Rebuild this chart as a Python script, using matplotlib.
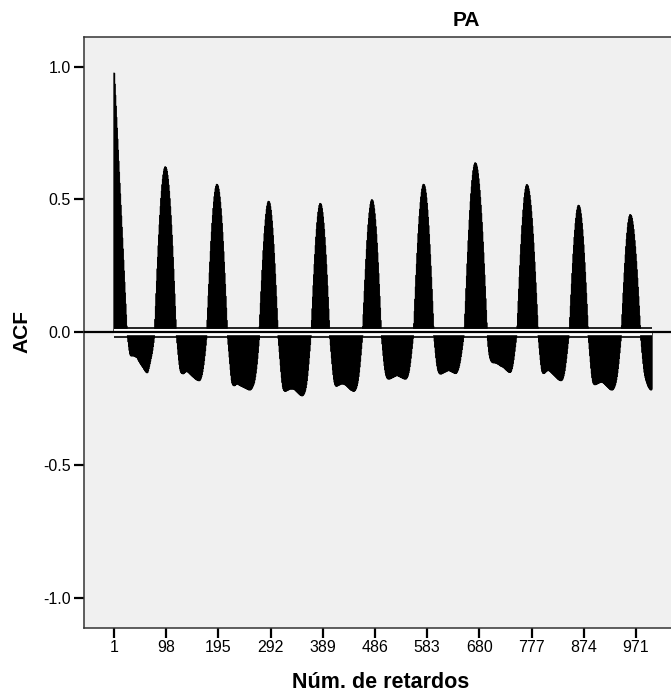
import numpy as np
import matplotlib
matplotlib.use("Agg")
import matplotlib.pyplot as plt

# ---- data: ACF values per lag, one list per daily cycle (96 lags) ----
seg0 = [0.977, 0.936, 0.894, 0.853, 0.811, 0.770, 0.729, 0.687, 0.646, 0.604, 0.563, 0.522, 0.480, 0.439, 0.397, 0.356,
        0.315, 0.273, 0.232, 0.190, 0.149, 0.108, 0.066, 0.025,
        -0.005, -0.020, -0.036, -0.053, -0.068, -0.080, -0.086, -0.088, -0.088, -0.088, -0.088, -0.088, -0.088, -0.089,
        -0.090, -0.091, -0.092, -0.093, -0.094, -0.097, -0.101, -0.106, -0.109, -0.112, -0.116, -0.119, -0.122, -0.125,
        -0.128, -0.131, -0.134, -0.138, -0.141, -0.144, -0.147, -0.149, -0.151, -0.151, -0.149, -0.143, -0.135, -0.126,
        -0.117, -0.107, -0.097, -0.088, -0.078, -0.066, -0.052, -0.037, -0.020,
        0.000,
        0.049, 0.098, 0.146, 0.193, 0.239, 0.283, 0.326, 0.367, 0.405, 0.441, 0.474, 0.505, 0.532, 0.556, 0.577, 0.593,
        0.607, 0.616, 0.622, 0.624]
seg1 = [0.622, 0.616, 0.607, 0.593, 0.577, 0.556, 0.532, 0.505, 0.474, 0.441, 0.405, 0.367, 0.326, 0.283, 0.239, 0.193,
        0.146, 0.098, 0.049, 0.000,
        -0.018, -0.040, -0.062, -0.084, -0.104, -0.122, -0.137, -0.146, -0.151, -0.153, -0.154, -0.155, -0.155, -0.154,
        -0.152, -0.150, -0.148, -0.147, -0.147, -0.147, -0.148, -0.149, -0.151, -0.153, -0.155, -0.157, -0.159, -0.161,
        -0.163, -0.165, -0.167, -0.168, -0.170, -0.172, -0.174, -0.175, -0.177, -0.178, -0.179, -0.180, -0.181, -0.181,
        -0.181, -0.179, -0.176, -0.171, -0.165, -0.157, -0.147, -0.135, -0.121, -0.105, -0.087, -0.068, -0.047, -0.024,
        0.000, 0.046, 0.092, 0.137, 0.181, 0.224, 0.265, 0.305, 0.343, 0.378, 0.411, 0.440, 0.467, 0.491, 0.511, 0.528,
        0.541, 0.550, 0.556, 0.558]
seg2 = [0.556, 0.550, 0.541, 0.528, 0.511, 0.491, 0.467, 0.440, 0.411, 0.378, 0.343, 0.305, 0.265, 0.224, 0.181, 0.137,
        0.092, 0.046, 0.000,
        -0.022, -0.046, -0.070, -0.094, -0.118, -0.141, -0.162, -0.180, -0.191, -0.196, -0.199, -0.200, -0.200, -0.199,
        -0.197, -0.195, -0.194, -0.194, -0.194, -0.195, -0.196, -0.198, -0.199, -0.200, -0.201, -0.202, -0.203, -0.204,
        -0.205, -0.206, -0.207, -0.208, -0.209, -0.210, -0.211, -0.212, -0.213, -0.214, -0.215, -0.216, -0.216, -0.216,
        -0.215, -0.213, -0.211, -0.208, -0.204, -0.199, -0.194, -0.188, -0.178, -0.166, -0.152, -0.136, -0.118, -0.097,
        -0.074, -0.050, -0.026,
        0.022, 0.066, 0.110, 0.153, 0.194, 0.234, 0.272, 0.308, 0.341, 0.372, 0.400, 0.424, 0.445, 0.463, 0.476, 0.486,
        0.492, 0.494]
seg3 = [0.492, 0.486, 0.475, 0.461, 0.442, 0.420, 0.394, 0.365, 0.333, 0.298, 0.260, 0.220, 0.178, 0.135, 0.091, 0.046,
        0.000,
        -0.024, -0.049, -0.074, -0.099, -0.124, -0.148, -0.170, -0.189, -0.204, -0.213, -0.218, -0.220, -0.221, -0.221,
        -0.220, -0.219, -0.218, -0.217, -0.216, -0.215, -0.214, -0.213, -0.213, -0.213, -0.213, -0.213, -0.213, -0.213,
        -0.213, -0.214, -0.215, -0.217, -0.219, -0.221, -0.223, -0.225, -0.227, -0.229, -0.231, -0.233, -0.235, -0.236,
        -0.237, -0.238, -0.238, -0.237, -0.235, -0.232, -0.228, -0.223, -0.216, -0.207, -0.195, -0.180, -0.162, -0.141,
        -0.118, -0.094, -0.069, -0.044, -0.018,
        0.000, 0.045, 0.089, 0.133, 0.176, 0.217, 0.256, 0.293, 0.327, 0.359, 0.388, 0.413, 0.435, 0.453, 0.467, 0.478,
        0.484, 0.486]
seg4 = [0.484, 0.478, 0.467, 0.453, 0.435, 0.413, 0.388, 0.359, 0.327, 0.293, 0.256, 0.217, 0.176, 0.133, 0.089, 0.045,
        0.000,
        -0.024, -0.048, -0.072, -0.096, -0.119, -0.141, -0.160, -0.176, -0.188, -0.196, -0.200, -0.202, -0.202, -0.201,
        -0.200, -0.199, -0.198, -0.197, -0.196, -0.195, -0.194, -0.194, -0.194, -0.194, -0.194, -0.194, -0.195, -0.196,
        -0.197, -0.198, -0.200, -0.202, -0.204, -0.206, -0.208, -0.210, -0.212, -0.214, -0.216, -0.217, -0.218, -0.219,
        -0.220, -0.221, -0.221, -0.220, -0.218, -0.215, -0.211, -0.206, -0.199, -0.190, -0.179, -0.165, -0.148, -0.129,
        -0.107, -0.084, -0.060, -0.036, -0.012,
        0.022, 0.067, 0.111, 0.155, 0.197, 0.237, 0.275, 0.312, 0.346, 0.377, 0.405, 0.429, 0.450, 0.468, 0.482, 0.492,
        0.498, 0.500]
seg5 = [0.498, 0.492, 0.481, 0.466, 0.448, 0.425, 0.399, 0.370, 0.337, 0.301, 0.263, 0.223, 0.181, 0.137, 0.092, 0.046,
        0.000,
        -0.022, -0.044, -0.066, -0.088, -0.108, -0.126, -0.141, -0.153, -0.162, -0.168, -0.172, -0.174, -0.175, -0.175,
        -0.175, -0.174, -0.173, -0.172, -0.171, -0.170, -0.169, -0.168, -0.167, -0.166, -0.165, -0.164, -0.163, -0.162,
        -0.162, -0.162, -0.163, -0.164, -0.165, -0.166, -0.167, -0.168, -0.169, -0.170, -0.171, -0.172, -0.173, -0.174,
        -0.175, -0.175, -0.175, -0.174, -0.172, -0.169, -0.165, -0.159, -0.151, -0.141, -0.128, -0.113, -0.096, -0.078,
        -0.059, -0.040, -0.021, -0.003,
        0.033, 0.079, 0.125, 0.171, 0.215, 0.257, 0.298, 0.336, 0.372, 0.406, 0.437, 0.464, 0.489, 0.510, 0.527, 0.540,
        0.550, 0.556, 0.558]
seg6 = [0.556, 0.550, 0.540, 0.526, 0.508, 0.487, 0.462, 0.434, 0.403, 0.369, 0.332, 0.293, 0.251, 0.208, 0.163, 0.118,
        0.071, 0.024,
        -0.012, -0.034, -0.056, -0.077, -0.096, -0.113, -0.127, -0.138, -0.146, -0.151, -0.154, -0.156, -0.156, -0.156,
        -0.155, -0.154, -0.153, -0.152, -0.151, -0.150, -0.149, -0.148, -0.147, -0.146, -0.145, -0.144, -0.143, -0.143,
        -0.143, -0.144, -0.145, -0.146, -0.147, -0.148, -0.149, -0.150, -0.151, -0.152, -0.153, -0.154, -0.154, -0.153,
        -0.151, -0.148, -0.144, -0.139, -0.132, -0.124, -0.114, -0.103, -0.090, -0.077, -0.063, -0.048, -0.033, -0.018,
        -0.004,
        0.020, 0.069, 0.117, 0.165, 0.212, 0.258, 0.302, 0.345, 0.385, 0.423, 0.459, 0.492, 0.522, 0.548, 0.572, 0.592,
        0.609, 0.622, 0.631, 0.637, 0.639]
seg7 = [0.637, 0.632, 0.624, 0.613, 0.598, 0.580, 0.559, 0.536, 0.509, 0.480, 0.449, 0.415, 0.379, 0.341, 0.301, 0.259,
        0.217, 0.173, 0.128, 0.083, 0.037,
        -0.006, -0.030, -0.054, -0.072, -0.086, -0.096, -0.102, -0.107, -0.110, -0.112, -0.113, -0.114, -0.114, -0.114,
        -0.114, -0.115, -0.115, -0.116, -0.117, -0.118, -0.119, -0.120, -0.122, -0.123, -0.125, -0.126, -0.127, -0.128,
        -0.129, -0.130, -0.131, -0.133, -0.135, -0.137, -0.139, -0.141, -0.143, -0.144, -0.146, -0.148, -0.149, -0.150,
        -0.150, -0.149, -0.146, -0.141, -0.135, -0.126, -0.115, -0.102, -0.087, -0.070, -0.053, -0.036, -0.019, -0.003,
        0.024, 0.071, 0.117, 0.163, 0.208, 0.251, 0.292, 0.331, 0.368, 0.402, 0.433, 0.461, 0.486, 0.508, 0.525, 0.539,
        0.549, 0.555, 0.557]
seg8 = [0.555, 0.550, 0.542, 0.531, 0.517, 0.499, 0.479, 0.456, 0.430, 0.401, 0.371, 0.338, 0.303, 0.266, 0.228, 0.188,
        0.148, 0.106, 0.064, 0.021,
        -0.012, -0.036, -0.060, -0.083, -0.104, -0.122, -0.137, -0.147, -0.152, -0.154, -0.154, -0.153, -0.151, -0.149,
        -0.147, -0.145, -0.144, -0.143, -0.143, -0.143, -0.144, -0.145, -0.147, -0.149, -0.151, -0.153, -0.155, -0.157,
        -0.159, -0.161, -0.163, -0.165, -0.167, -0.169, -0.171, -0.173, -0.175, -0.177, -0.178, -0.179, -0.180, -0.181,
        -0.181, -0.180, -0.178, -0.175, -0.170, -0.163, -0.154, -0.143, -0.129, -0.113, -0.096, -0.078, -0.059, -0.040,
        -0.021, -0.003,
        0.013, 0.056, 0.099, 0.141, 0.182, 0.222, 0.259, 0.295, 0.328, 0.358, 0.385, 0.410, 0.430, 0.448, 0.461, 0.471,
        0.477, 0.479]
seg9 = [0.477, 0.471, 0.462, 0.448, 0.432, 0.411, 0.388, 0.361, 0.331, 0.299, 0.264, 0.227, 0.188, 0.148, 0.107, 0.064,
        0.022,
        -0.013, -0.038, -0.063, -0.088, -0.112, -0.135, -0.155, -0.171, -0.183, -0.191, -0.194, -0.196, -0.196, -0.196,
        -0.195, -0.194, -0.193, -0.192, -0.191, -0.190, -0.189, -0.188, -0.188, -0.187, -0.187, -0.187, -0.188, -0.189,
        -0.190, -0.192, -0.194, -0.196, -0.198, -0.200, -0.202, -0.204, -0.206, -0.208, -0.210, -0.212, -0.214, -0.215,
        -0.216, -0.216, -0.216, -0.215, -0.213, -0.210, -0.206, -0.201, -0.195, -0.187, -0.177, -0.165, -0.151, -0.135,
        -0.117, -0.097, -0.076, -0.054, -0.031, -0.008,
        0.025, 0.067, 0.108, 0.148, 0.187, 0.224, 0.260, 0.292, 0.323, 0.350, 0.374, 0.395, 0.413, 0.426, 0.436, 0.442,
        0.444]
seg10 = [0.442, 0.438, 0.430, 0.419, 0.405, 0.389, 0.369, 0.347, 0.323, 0.296, 0.268, 0.237, 0.205, 0.171, 0.136, 0.100,
         0.063, 0.026,
         -0.007, -0.030, -0.053, -0.076, -0.098, -0.118, -0.136, -0.151, -0.163, -0.172, -0.180, -0.186, -0.192, -0.198,
         -0.203, -0.207, -0.210, -0.213, -0.215, -0.216, -0.215, -0.212]

conf_limit = 0.017
x_tick_lags = [1, 98, 195, 292, 389, 486, 583, 680, 777, 874, 971]
y_ticks = [-1.0, -0.5, 0.0, 0.5, 1.0]
y_tick_labels = ["-1.0", "-0.5", "0.0", "0.5", "1.0"]
title = "PA"
x_label = "Núm. de retardos"
y_label = "ACF"

acf = np.array(seg0 + seg1 + seg2 + seg3 + seg4 + seg5 + seg6 + seg7 + seg8 + seg9 + seg10)
lags = np.arange(1, len(acf) + 1)

# ---- figure ----
FONT = ["Liberation Sans Narrow", "Liberation Sans", "DejaVu Sans"]
plt.rcParams["font.family"] = FONT

W, H = 671, 692
fig = plt.figure(figsize=(W / 100, H / 100), dpi=100)
fig.patch.set_facecolor("white")

left_px, right_px, top_px, bot_px = 83.5, 671, 37, 628
ax = fig.add_axes([left_px / W, 1 - bot_px / H, (right_px - left_px) / W, (bot_px - top_px) / H])
ax.set_facecolor("#f0f0f0")

# ACF bars (1000 contiguous bars; the filled step area underneath keeps them solid at sub-pixel width)
ax.fill_between(lags, 0, acf, step="mid", color="black", linewidth=0.6, edgecolor="black", zorder=2)
ax.bar(lags, acf, width=1.0, color="black", edgecolor="black", linewidth=0.4, snap=False, zorder=2)

# reference line at zero with light halo, and confidence limits
ax.plot([lags[0], lags[-1]], [0, 0], color="white", linewidth=4.6, solid_capstyle="butt", zorder=3)
ax.axhline(0, color="black", linewidth=1.6, zorder=4)
ax.plot([lags[0], lags[-1]], [conf_limit, conf_limit], color="black", linewidth=1.2,
        solid_capstyle="butt", zorder=4)
ax.plot([lags[0], lags[-1]], [-conf_limit, -conf_limit], color="black", linewidth=1.2,
        solid_capstyle="butt", zorder=4)

ax.set_xlim(-55.7, 1036)
ax.set_ylim(-1.114, 1.112)

ax.set_xticks(x_tick_lags)
ax.set_xticklabels([str(v) for v in x_tick_lags], fontsize=11.5)
ax.set_yticks(y_ticks)
ax.set_yticklabels(y_tick_labels, fontsize=11.5)
ax.tick_params(axis="both", direction="out", length=7, width=1.6, color="black", pad=2)

for side in ["left", "bottom", "top"]:
    ax.spines[side].set_color("#333333")
    ax.spines[side].set_linewidth(1.1)
ax.spines["right"].set_visible(False)

fig.text(466 / W, 1 - 20 / H, title, ha="center", va="center", fontsize=15, fontweight="bold")
fig.text(381 / W, 1 - 682 / H, x_label, ha="center", va="center", fontsize=15.5, fontweight="bold")
fig.text(22 / W, 1 - 332 / H, y_label, ha="center", va="center", fontsize=15, fontweight="bold",
         rotation=90)

fig.savefig("out.png", dpi=100, facecolor="white")
